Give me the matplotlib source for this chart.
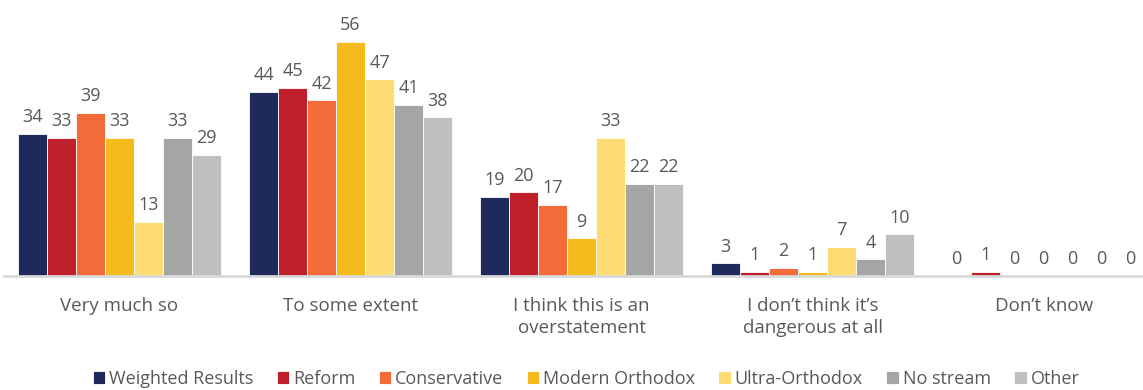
import numpy as np
import matplotlib.pyplot as plt

plt.rcParams['font.family'] = ['Open Sans', 'DejaVu Sans']

categories = ['Very much so', 'To some extent', 'I think this is an\noverstatement',
              'I don\u2019t think it\u2019s\ndangerous at all', 'Don\u2019t know']
groups = ['Weighted Results', 'Reform', 'Conservative', 'Modern Orthodox',
          'Ultra-Orthodox', 'No stream', 'Other']
weighted = [34, 44, 19, 3, 0]
reform = [33, 45, 20, 1, 1]
conservative = [39, 42, 17, 2, 0]
modern_orthodox = [33, 56, 9, 1, 0]
ultra_orthodox = [13, 47, 33, 7, 0]
no_stream = [33, 41, 22, 4, 0]
other = [29, 38, 22, 10, 0]

series = [weighted, reform, conservative, modern_orthodox, ultra_orthodox, no_stream, other]
colors = ['#1F2A5C', '#C0202A', '#F26B38', '#F5BA1B', '#FDDC74', '#A5A5A5', '#BFBFBF']
txt = '#595959'

fig = plt.figure(figsize=(11.43, 3.9), dpi=100)
ax = fig.add_axes([4 / 1143, 114 / 390, 1139 / 1143, 276 / 390])

x = np.arange(len(categories))
width = 0.1255
for i, (vals, col, name) in enumerate(zip(series, colors, groups)):
    pos = x + (i - 3) * width
    ax.bar(pos, vals, width, color=col, label=name, edgecolor='white', linewidth=0.6)
    for p, v in zip(pos, vals):
        ax.text(p, v + 1.8, str(v), ha='center', va='bottom', fontsize=13, color=txt)

ax.set_xlim(-0.5, 4.43)
ax.set_ylim(0, 66)
ax.set_yticks([])
ax.set_xticks(x)
ax.set_xticklabels(categories, fontsize=13.5, color=txt, linespacing=1.3)
ax.tick_params(axis='x', length=0, pad=15)
for s in ['top', 'right', 'left']:
    ax.spines[s].set_visible(False)
ax.spines['bottom'].set_color('#D9D9D9')
ax.spines['bottom'].set_linewidth(2)

fig.legend(loc='center', bbox_to_anchor=(586 / 1143, 1 - 379 / 390), ncol=7, frameon=False,
           fontsize=13, handlelength=0.7, handleheight=0.7, handletextpad=0.2,
           columnspacing=1.3, labelcolor=txt)

fig.savefig('out.png', dpi=100)
